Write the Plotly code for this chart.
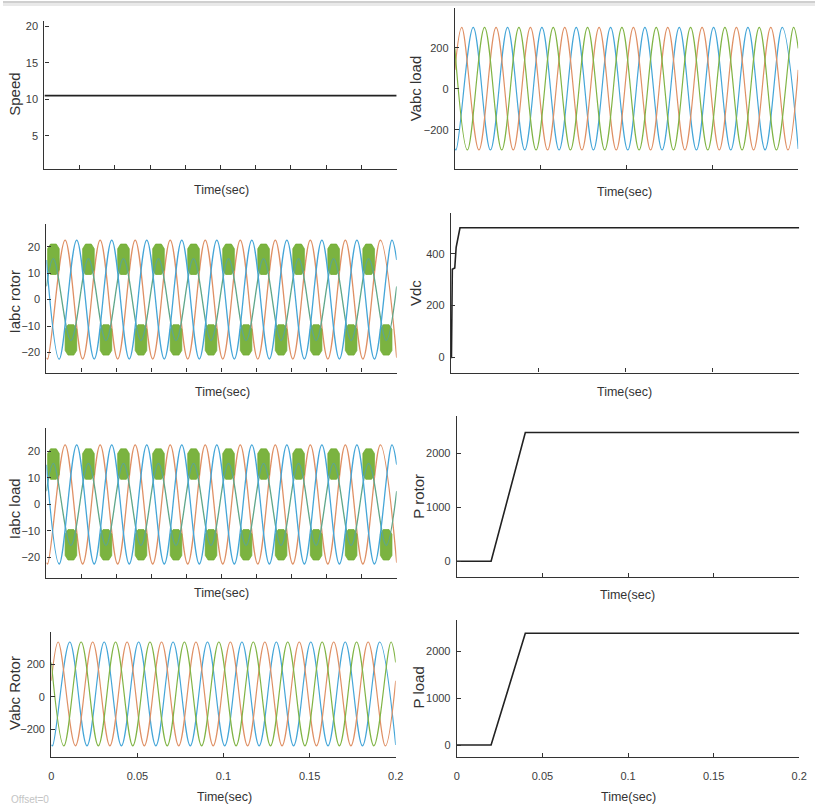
import plotly.graph_objects as go

W, H = 823, 808

# ------------------------------------------------------------------ data
T_START, T_END = 0.0, 0.2

speed_t = [0.0, 0.2]
speed_v = [10.5, 10.5]

# times (s) of the successive extrema of the three 50 Hz phases
phase1_ext_t = [0.004, 0.014, 0.024, 0.034, 0.044, 0.054, 0.064, 0.074, 0.084, 0.094,
                0.104, 0.114, 0.124, 0.134, 0.144, 0.154, 0.164, 0.174, 0.184, 0.194]   # first = peak
phase2_ext_t = [0.0007, 0.0107, 0.0207, 0.0307, 0.0407, 0.0507, 0.0607, 0.0707, 0.0807, 0.0907,
                0.1007, 0.1107, 0.1207, 0.1307, 0.1407, 0.1507, 0.1607, 0.1707, 0.1807, 0.1907]  # first = trough
phase3_ext_t = [0.0073, 0.0173, 0.0273, 0.0373, 0.0473, 0.0573, 0.0673, 0.0773, 0.0873, 0.0973,
                0.1073, 0.1173, 0.1273, 0.1373, 0.1473, 0.1573, 0.1673, 0.1773, 0.1873, 0.1973]  # first = trough

# Vabc load: [start value, peak, trough, end value] per phase
vload_orange = [93, 300, -298, 93]      # phase 1
vload_blue = [-293, 300, -298, -293]    # phase 2
vload_green = [198, 300, -298, 198]     # phase 3

# Vabc Rotor
vrot_orange = [98, 335, -300, 98]
vrot_blue = [-295, 335, -300, -295]
vrot_green = [210, 335, -300, 210]

# Iabc rotor / Iabc load
irot_green = [5, 15.5, -15.5, 5]        # phase 1 (with switching ripple)
irot_orange = [-22, 22.5, -22.5, -22]   # phase 2
irot_blue = [15, 22.5, -22.5, 15]       # phase 3
iload_green = [5, 15.5, -15.5, 5]
iload_orange = [-22, 22.5, -22.5, -22]
iload_blue = [15, 22.5, -22.5, 15]
# ripple band of the green current around its extrema
green_band_pos = [9.5, 21]
green_band_neg = [-21, -9.5]
green_band_halfwidth_t = 0.0033

vdc_t = [0.0, 0.0003, 0.0008, 0.0022, 0.003, 0.0052, 0.2]
vdc_v = [0, 0, 340, 345, 425, 500, 500]

prot_t = [0.0, 0.02, 0.04, 0.2]
prot_v = [0, 0, 2380, 2380]
pload_t = [0.0, 0.02, 0.04, 0.2]
pload_v = [0, 0, 2380, 2380]

y_titles = ["Speed", "Vabc load", "Iabc rotor", "Vdc", "Iabc load", "P rotor", "Vabc Rotor", "P load"]
x_title = "Time(sec)"

# ------------------------------------------------------------------ helpers
C_BLUE = "#45a6d8"
C_ORANGE = "#df9065"
C_GREEN = "#80b445"
C_BLACK = "#222222"


def wave(ext_t, first_is_peak, spec):
    v0, pk, tr, v1 = spec
    ys = []
    for i in range(len(ext_t)):
        is_peak = (i % 2 == 0) == first_is_peak
        ys.append(pk if is_peak else tr)
    return [T_START] + list(ext_t) + [T_END], [v0] + ys + [v1]


def band(ext_t, first_is_peak, pos, neg, hw):
    xs, ys = [], []
    for i, tc in enumerate(ext_t):
        is_peak = (i % 2 == 0) == first_is_peak
        lo, hi = pos if is_peak else neg
        h = hi - lo
        xs += [tc - hw, tc - hw, tc - 0.5 * hw, tc + 0.5 * hw, tc + hw, tc + hw,
               tc + 0.5 * hw, tc - 0.5 * hw, tc - hw, None]
        ys += [lo + 0.15 * h, hi - 0.15 * h, hi, hi, hi - 0.15 * h, lo + 0.15 * h,
               lo, lo, lo + 0.15 * h, None]
    return xs, ys


fig = go.Figure()


def add_line(x, y, idx, color, width, spline=False):
    fig.add_trace(go.Scatter(
        x=x, y=y, mode="lines", xaxis=f"x{idx}", yaxis=f"y{idx}",
        line=dict(color=color, width=width, shape="spline" if spline else "linear"),
        hoverinfo="skip", showlegend=False))


# 1 Speed
add_line(speed_t, speed_v, 1, C_BLACK, 1.6)

# 2 Vabc load
for ext, first_peak, spec, col in [(phase2_ext_t, False, vload_blue, C_BLUE),
                                   (phase1_ext_t, True, vload_orange, C_ORANGE),
                                   (phase3_ext_t, False, vload_green, C_GREEN)]:
    x, y = wave(ext, first_peak, spec)
    add_line(x, y, 2, col, 1.2, spline=True)

# 3 / 5 Iabc rotor and Iabc load
for idx, g, o, b in [(3, irot_green, irot_orange, irot_blue), (5, iload_green, iload_orange, iload_blue)]:
    x, y = wave(phase2_ext_t, False, o)
    add_line(x, y, idx, C_ORANGE, 1.3, spline=True)
    bx, by = band(phase1_ext_t, True, green_band_pos, green_band_neg, green_band_halfwidth_t)
    fig.add_trace(go.Scatter(x=bx, y=by, mode="lines", fill="toself", fillcolor="rgba(112,172,48,0.92)",
                             line=dict(width=0.8, color="rgba(112,172,48,0.92)"),
                             xaxis=f"x{idx}", yaxis=f"y{idx}", hoverinfo="skip", showlegend=False))
    x, y = wave(phase1_ext_t, True, g)
    add_line(x, y, idx, "#5fa78a", 1.3, spline=True)
    x, y = wave(phase3_ext_t, False, b)
    add_line(x, y, idx, C_BLUE, 1.3, spline=True)

# 4 Vdc
add_line(vdc_t, vdc_v, 4, C_BLACK, 1.6)

# 6 P rotor
add_line(prot_t, prot_v, 6, C_BLACK, 1.6)

# 7 Vabc Rotor
for ext, first_peak, spec, col in [(phase2_ext_t, False, vrot_blue, C_BLUE),
                                   (phase1_ext_t, True, vrot_orange, C_ORANGE),
                                   (phase3_ext_t, False, vrot_green, C_GREEN)]:
    x, y = wave(ext, first_peak, spec)
    add_line(x, y, 7, col, 1.2, spline=True)

# 8 P load
add_line(pload_t, pload_v, 8, C_BLACK, 1.6)

# ------------------------------------------------------------------ layout
FONT = "Liberation Sans, Arial, sans-serif"

panels = [
    dict(x0=42, x1=399, yt=20, yb=168, yr=[0.5, 20.7], ydt=5, xdt=0.02, xl=False),
    dict(x0=458, x1=806, yt=7, yb=168, yr=[-390, 395], ydt=200, xdt=0.05, xl=False),
    dict(x0=44, x1=399, yt=223, yb=372, yr=[-27.6, 28.7], ydt=10, xdt=0.02, xl=False),
    dict(x0=454, x1=807, yt=212, yb=372, yr=[-58, 558], ydt=200, xdt=0.05, xl=False),
    dict(x0=44, x1=399, yt=428, yb=578, yr=[-27.9, 28.7], ydt=10, xdt=0.02, xl=False),
    dict(x0=460, x1=807, yt=416, yb=577, yr=[-295, 2675], ydt=1000, xdt=0.05, xl=False),
    dict(x0=49, x1=398, yt=632, yb=757, yr=[-369, 395], ydt=200, xdt=0.05, xl=True),
    dict(x0=460, x1=807, yt=620, yb=757, yr=[-255, 2656], ydt=1000, xdt=0.05, xl=True),
]

ytitle_pos = [(12, 93), (418, 87), (12, 301), (418, 292), (12, 508), (421, 496), (11, 693), (421, 687)]
xtitle_pos = [(221, 189), (630, 191), (222, 391), (630, 391), (221, 593), (633, 595), (224, 797), (634, 797)]

layout = dict(width=W, height=H, margin=dict(l=0, r=0, t=0, b=0),
              paper_bgcolor="white", plot_bgcolor="white", showlegend=False)

AX = "#333333"
for i, p in enumerate(panels, start=1):
    layout[f"xaxis{i}"] = dict(
        domain=[p["x0"] / W, p["x1"] / W], anchor=f"y{i}", range=[T_START, T_END],
        showgrid=False, zeroline=False, showline=True, linecolor=AX, linewidth=1.3,
        ticks="inside", ticklen=4, tickwidth=1, tickcolor=AX, tick0=0, dtick=p["xdt"],
        showticklabels=p["xl"], ticklabelstandoff=9,
        tickfont=dict(family=FONT, size=11, color="#3c3c3c"))
    layout[f"yaxis{i}"] = dict(
        domain=[1 - p["yb"] / H, 1 - p["yt"] / H], anchor=f"x{i}", range=p["yr"],
        showgrid=False, zeroline=False, showline=True, linecolor=AX, linewidth=1.3,
        ticks="inside", ticklen=4, tickwidth=1, tickcolor=AX, tick0=0, dtick=p["ydt"],
        ticklabelstandoff=3, tickfont=dict(family=FONT, size=11, color="#3c3c3c"))

annotations = []
for (px, py), txt in zip(ytitle_pos, y_titles):
    annotations.append(dict(x=px / W, y=1 - py / H, xref="paper", yref="paper", text=txt,
                            textangle=-90, showarrow=False, xanchor="center", yanchor="middle",
                            font=dict(family=FONT, size=15, color="#333333")))
for (px, py) in xtitle_pos:
    annotations.append(dict(x=px / W, y=1 - py / H, xref="paper", yref="paper", text=x_title,
                            showarrow=False, xanchor="center", yanchor="middle",
                            font=dict(family=FONT, size=12.5, color="#333333")))
annotations.append(dict(x=27 / W, y=1 - 799 / H, xref="paper", yref="paper", text="Offset=0",
                        showarrow=False, xanchor="center", yanchor="middle",
                        font=dict(family=FONT, size=10, color="#c4c4c4")))
layout["annotations"] = annotations

layout["shapes"] = [
    dict(type="rect", xref="paper", yref="paper", x0=0, x1=1, y0=1 - 2 / H, y1=1,
         fillcolor="#cfcfcf", line=dict(width=0), layer="below"),
    dict(type="rect", xref="paper", yref="paper", x0=0, x1=1, y0=1 - 5 / H, y1=1 - 2 / H,
         fillcolor="#e9e9e9", line=dict(width=0), layer="below"),
]

fig.update_layout(**layout)
fig.write_html("out.html", config={"displayModeBar": False},
               post_script="document.body.style.margin='0';document.body.style.overflow='hidden';")
